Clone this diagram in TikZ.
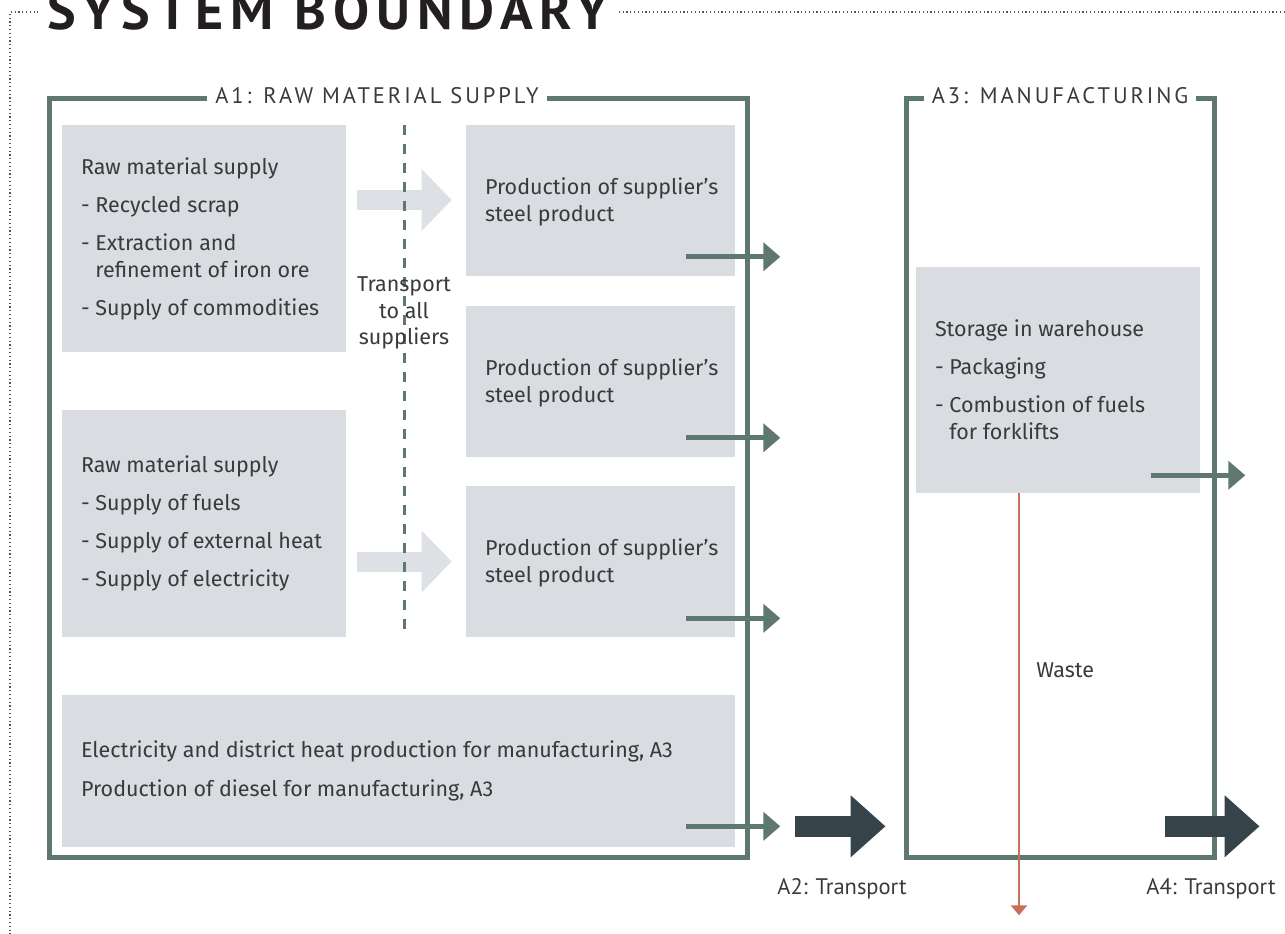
\documentclass[tikz,border=0pt]{standalone}
\usepackage{fontspec}
\setmainfont{Fira Sans}
\newfontfamily\stagefont[LetterSpace=13]{PT Sans}
\newfontfamily\labelfont{PT Sans}
\newfontfamily\titlefont[LetterSpace=13]{PT Sans}
\usepackage{tikz}
\usetikzlibrary{arrows.meta,calc}
\definecolor{sysgreen}{HTML}{5F786F}
\definecolor{boxgray}{HTML}{D9DCE0}
\definecolor{feedgray}{HTML}{DDE0E4}
\definecolor{darkslate}{HTML}{36434B}
\definecolor{wastered}{HTML}{C5705B}
\definecolor{txtgray}{HTML}{3A3A3A}
\definecolor{dotgray}{HTML}{555555}
\definecolor{titleblack}{HTML}{231F20}

\begin{document}
\begin{tikzpicture}[x=1pt,y=-1pt,semithick,font=\fontsize{21.5}{27}\selectfont]
  \tikzstyle{box}=[fill=boxgray,draw=none,inner sep=0pt]
  \tikzstyle{note}=[align=left,inner sep=0pt,text=txtgray]
  \tikzstyle{stage}=[draw=sysgreen,line width=5pt,inner sep=0pt]
  \tikzstyle{stagetitle}=[fill=white,inner xsep=8pt,text=txtgray,font=\stagefont\fontsize{22.5}{22.5}\selectfont]
  \tikzstyle{flow}=[-{Triangle[length=17pt,width=28pt]},draw=sysgreen,line width=5pt]
  \tikzstyle{feed}=[-{Triangle[length=30pt,width=60pt]},draw=feedgray,line width=20pt]
  \tikzstyle{transport}=[-{Triangle[length=35pt,width=60pt]},draw=darkslate,line width=21pt]
  \tikzstyle{wasteflow}=[-{Triangle[length=10pt,width=16pt]},draw=wastered,line width=2.5pt]
  \tikzstyle{divider}=[draw=sysgreen,line width=2.5pt,dash pattern=on 10pt off 9pt]
  \tikzstyle{boundary}=[draw=dotgray,line width=1.8pt,dash pattern=on 1.2pt off 2.6pt]
  \tikzstyle{translabel}=[text=txtgray,font=\labelfont\fontsize{22.5}{22.5}\selectfont]

  \useasboundingbox (0,0) rectangle (1285,934);

  \draw[boundary] (1285,12) -- (10,12) -- (10,934);
  \node[anchor=base west,fill=white,inner xsep=9pt,inner ysep=6pt,text=titleblack,
        font=\titlefont\bfseries\fontsize{54}{54}\selectfont] (title) at (38,30) {SYSTEM BOUNDARY};

  \node[stage,minimum width=698pt,minimum height=759pt] (a1) at (398,477.5) {};
  \node[stage,minimum width=308pt,minimum height=759pt] (a3) at (1060,477.5) {};
  \node[stagetitle] (a1title) at ([xshift=-21pt]a1.north) {A1: RAW MATERIAL SUPPLY};
  \node[stagetitle] (a3title) at (a3.north) {A3: MANUFACTURING};

  \node[box,minimum width=284pt,minimum height=227pt] (rms1) at (204,238.5) {};
  \node[box,minimum width=284pt,minimum height=227pt] (rms2) at (204,523.5) {};
  \node[box,minimum width=269pt,minimum height=151pt] (sp1) at (600.5,200) {};
  \node[box,minimum width=269pt,minimum height=151pt] (sp2) at (600.5,381) {};
  \node[box,minimum width=269pt,minimum height=151pt] (sp3) at (600.5,561.5) {};
  \node[box,minimum width=673pt,minimum height=152pt] (energy) at (398.5,771) {};
  \node[box,minimum width=284pt,minimum height=226pt] (storage) at (1058,380) {};

  \coordinate (f1) at (rms1.east |- sp1.west);
  \coordinate (f2) at (rms2.east |- sp3.west);
  \draw[feed] ([xshift=11pt]f1) -- ([xshift=-14pt]sp1.west);
  \draw[feed] ([xshift=11pt]f2) -- ([xshift=-14pt]sp3.west);
  \draw[divider] ([xshift=58pt]rms1.north east) -- ([xshift=58pt]rms2.south east);
  \node[note,align=center] (trnote) at (404,313) {Transport\\[-0.5pt]to all\\[-0.5pt]suppliers};

  \node[note,anchor=west] (rms1text) at ([xshift=19pt]rms1.west)
    {Raw material supply\\[11pt]- Recycled scrap\\[11pt]- Extraction and\\\hphantom{- }refinement of iron ore\\[11pt]- Supply of commodities};
  \node[note,anchor=west] (rms2text) at ([xshift=19pt]rms2.west)
    {Raw material supply\\[11pt]- Supply of fuels\\[11pt]- Supply of external heat\\[11pt]- Supply of electricity};
  \node[note,anchor=base west] (sp1text) at ([shift={(19,97)}]sp1.north west) {Production of supplier's\\steel product};
  \node[note,anchor=base west] (sp2text) at ([shift={(19,97)}]sp2.north west) {Production of supplier's\\steel product};
  \node[note,anchor=base west] (sp3text) at ([shift={(19,97)}]sp3.north west) {Production of supplier's\\steel product};
  \node[note,anchor=west] (energytext) at ([xshift=19pt]energy.west)
    {Electricity and district heat production for manufacturing, A3\\[12pt]Production of diesel for manufacturing, A3};
  \node[note,anchor=west] (storagetext) at ([xshift=19pt]storage.west)
    {Storage in warehouse\\[11pt]- Packaging\\[11pt]- Combustion of fuels\\\hphantom{- }for forklifts};

  \draw[flow] ([shift={(-49,-19)}]sp1.south east) -- ++(94,0);
  \draw[flow] ([shift={(-49,-19)}]sp2.south east) -- ++(94,0);
  \draw[flow] ([shift={(-49,-19)}]sp3.south east) -- ++(94,0);
  \draw[flow] ([shift={(-49,-21)}]energy.south east) coordinate (eflow) -- ++(94,0);
  \draw[flow] ([shift={(-49,-18)}]storage.south east) -- ++(94,0);

  \coordinate (t2s) at ($(a1.east |- eflow)+(45,0)$);
  \coordinate (t2e) at ($(a3.west |- eflow)+(-18,0)$);
  \coordinate (t4s) at ($(a3.east |- eflow)+(-52,0)$);
  \coordinate (t4e) at ($(a3.east |- eflow)+(43,0)$);
  \draw[transport] (t2s) -- (t2e);
  \draw[transport] (t4s) -- (t4e);
  \node[translabel] (a2) at ($(t2s)!.5!(t2e)+(2,62)$) {A2: Transport};
  \node[translabel] (a4) at ($(t4s)!.5!(t4e)+(-1,62)$) {A4: Transport};

  \draw[wasteflow] ([xshift=-39pt]storage.south) -- node[note,pos=.42,anchor=west,xshift=16pt] (wastetext) {Waste} ++(0,422);
\end{tikzpicture}
\end{document}
